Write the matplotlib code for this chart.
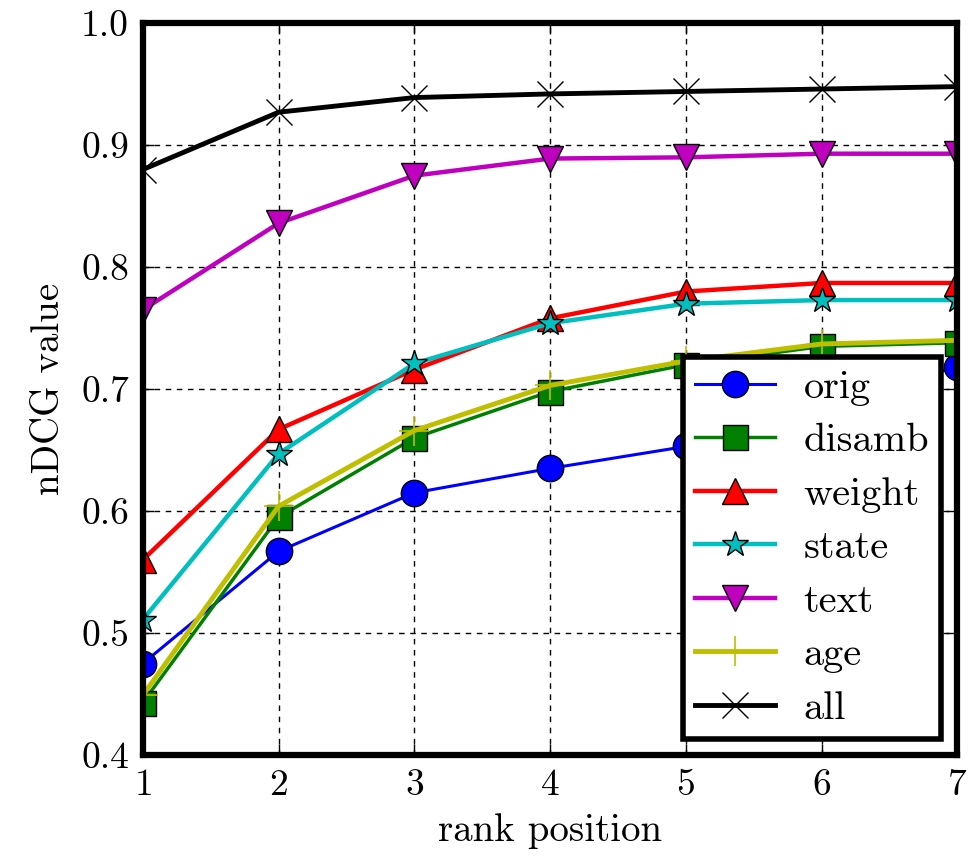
import matplotlib
matplotlib.use('Agg')
import matplotlib.pyplot as plt

plt.rcParams['font.family'] = ['cmr10', 'DejaVu Serif']
plt.rcParams['axes.formatter.use_mathtext'] = True

# rank positions and nDCG values per feature set
ranks = [1, 2, 3, 4, 5, 6, 7]
orig = [0.475, 0.567, 0.615, 0.635, 0.653, 0.690, 0.718]
disamb = [0.443, 0.595, 0.660, 0.698, 0.720, 0.735, 0.738]
weight = [0.560, 0.667, 0.716, 0.758, 0.780, 0.787, 0.787]
state = [0.511, 0.647, 0.721, 0.754, 0.770, 0.773, 0.773]
text = [0.765, 0.836, 0.875, 0.889, 0.890, 0.893, 0.893]
age = [0.449, 0.604, 0.666, 0.703, 0.723, 0.737, 0.740]
all_feats = [0.880, 0.927, 0.939, 0.942, 0.944, 0.946, 0.948]

fig = plt.figure(figsize=(9.78, 8.58), dpi=100)
ax = fig.add_axes([0.146, 0.120, 0.833, 0.853])

ms = 19
ax.plot(ranks, orig, '-o', color='b', lw=2.2, ms=ms, mec='k', mew=1, label='orig')
ax.plot(ranks, disamb, '-s', color=(0, 0.5, 0), lw=2.5, ms=ms - 1, mec='k', mew=1, label='disamb')
ax.plot(ranks, weight, '-^', color='r', lw=3.2, ms=ms, mec='k', mew=1, label='weight')
ax.plot(ranks, state, '-*', color=(0, 0.75, 0.75), lw=3.2, ms=ms, mec='k', mew=1, label='state')
ax.plot(ranks, text, '-v', color=(0.75, 0, 0.75), lw=3.2, ms=ms, mec='k', mew=1, label='text')
ax.plot(ranks, age, '-+', color=(0.75, 0.75, 0), lw=3.5, ms=ms + 2, mew=1.2, label='age')
ax.plot(ranks, all_feats, '-x', color='k', lw=3.5, ms=ms, mew=1, label='all')

ax.set_xlim(1, 7)
ax.set_ylim(0.4, 1.0)
ax.set_xticks(ranks)
ax.set_yticks([0.4, 0.5, 0.6, 0.7, 0.8, 0.9, 1.0])
ax.set_yticklabels(['0.4', '0.5', '0.6', '0.7', '0.8', '0.9', '1.0'])
ax.grid(True, color='k', linestyle='--', linewidth=1, dashes=(4, 4))
ax.tick_params(direction='in', length=8, width=1, top=True, right=True,
               labelsize=27, pad=10)
for sp in ax.spines.values():
    sp.set_linewidth(4.5)

ax.set_xlabel('rank position', fontsize=28, labelpad=8)
ax.set_ylabel('nDCG value', fontsize=28, labelpad=10)

leg = ax.legend(loc='lower right', fontsize=29, handlelength=2.0, labelspacing=0.43,
                handletextpad=0.7, borderpad=0.3, fancybox=False, framealpha=1,
                borderaxespad=0.4)
leg.get_frame().set_edgecolor('k')
leg.get_frame().set_linewidth(4)

fig.savefig('out.png', dpi=100)
